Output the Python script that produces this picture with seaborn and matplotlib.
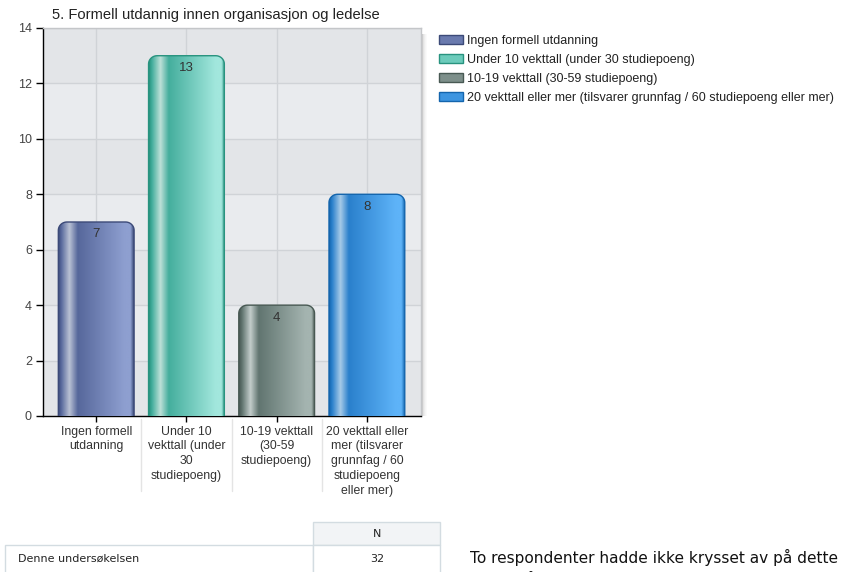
import numpy as np
import pandas as pd
import matplotlib
matplotlib.use("Agg")
import matplotlib.pyplot as plt
import seaborn as sns
from matplotlib.path import Path
from matplotlib.patches import PathPatch, Rectangle, Patch
from matplotlib.colors import to_rgb

# ---- data -------------------------------------------------------------
title = "5. Formell utdannig innen organisasjon og ledelse"
categories = [
    "Ingen formell utdanning",
    "Under 10 vekttall (under 30 studiepoeng)",
    "10-19 vekttall (30-59 studiepoeng)",
    "20 vekttall eller mer (tilsvarer grunnfag / 60 studiepoeng eller mer)",
]
tick_labels = [
    "Ingen formell\nutdanning",
    "Under 10\nvekttall (under\n30\nstudiepoeng)",
    "10-19 vekttall\n(30-59\nstudiepoeng)",
    "20 vekttall eller\nmer (tilsvarer\ngrunnfag / 60\nstudiepoeng\neller mer)",
]
counts = [7, 13, 4, 8]
yticks = [0, 2, 4, 6, 8, 10, 12, 14]
table_header = "N"
table_rows = ["Denne undersøkelsen"]
table_n = [32]
note_lines = ["To respondenter hadde ikke krysset av på dette", "spørsmålet."]

# ---- styling ----------------------------------------------------------
# (edge, dark body, light body, highlight) for each cylinder
bar_shades = [
    ("#3c4a78", "#56679b", "#8e9fd0", "#b9c1d4"),
    ("#28937f", "#44ae9d", "#a2e7dd", "#bde0d8"),
    ("#485953", "#617570", "#a4b4b0", "#c3cdcb"),
    ("#1465ad", "#2a80cc", "#5eb3f8", "#a6cae8"),
]
legend_colors = ["#6a7aae", "#6ccbbb", "#7d8f8a", "#3d95e0"]

W, H = 845, 572
sns.set_style("white")
plt.rcParams["font.family"] = ["Liberation Sans", "DejaVu Sans"]

fig = plt.figure(figsize=(W / 100, H / 100), dpi=100)


def fx(px):
    return px / W


def fy(py):
    return 1 - py / H


ax = fig.add_axes([fx(43), fy(416), (421 - 43) / W, (416 - 28) / H])

df = pd.DataFrame({"kategori": categories, "antall": counts})
sns.barplot(data=df, x="kategori", y="antall", hue="kategori",
            palette=legend_colors, width=0.84, legend=False, ax=ax,
            zorder=3)

XLIM = (-0.59, 3.6)
YLIM = (0, 14)

# alternating background bands
for i, lo in enumerate(yticks[:-1]):
    ax.axhspan(lo, lo + 2, color="#e3e5e8" if i % 2 == 0 else "#e9ebee",
               zorder=0, lw=0)


def cylinder_path(x0, x1, h, rx, ry):
    verts = [(x0, -0.2), (x0, h - ry)]
    t = np.linspace(np.pi, np.pi / 2, 12)
    verts += [(x0 + rx + rx * np.cos(a), h - ry + ry * np.sin(a)) for a in t]
    t = np.linspace(np.pi / 2, 0, 12)
    verts += [(x1 - rx + rx * np.cos(a), h - ry + ry * np.sin(a)) for a in t]
    verts += [(x1, -0.2), (x0, -0.2)]
    codes = [Path.MOVETO] + [Path.LINETO] * (len(verts) - 2) + [Path.CLOSEPOLY]
    return Path(verts, codes)


def shade_strip(edge, dark, light, hi, n=300):
    stops = [(0.0, edge), (0.04, dark), (0.15, hi), (0.26, dark),
             (0.88, light), (0.955, light), (1.0, edge)]
    xs = np.linspace(0, 1, n)
    pos = [s[0] for s in stops]
    cols = np.array([to_rgb(s[1]) for s in stops])
    rgb = np.stack([np.interp(xs, pos, cols[:, k]) for k in range(3)], axis=-1)
    return rgb[np.newaxis, :, :]


for patch, shades, val in zip(ax.patches, bar_shades, counts):
    x0 = patch.get_x()
    w = patch.get_width()
    h = patch.get_height()
    patch.set_visible(False)
    edge, dark, light, hi = shades
    outline = PathPatch(cylinder_path(x0, x0 + w, h, 0.095, 0.3),
                        facecolor="none", edgecolor=edge, lw=1.0, zorder=4)
    ax.add_patch(outline)
    im = ax.imshow(shade_strip(*shades), extent=[x0, x0 + w, 0, h],
                   aspect="auto", interpolation="bilinear", zorder=3)
    im.set_clip_path(outline)
    ax.text(x0 + w / 2, h - 0.45, f"{val}", ha="center", va="center",
            fontsize=9.5, color="#333333", zorder=5)

ax.set_xlim(*XLIM)
ax.set_ylim(*YLIM)
ax.set_yticks(yticks)
ax.set_yticklabels([str(v) for v in yticks])
ax.set_xticks(range(len(categories)))
ax.set_xticklabels(tick_labels, fontsize=8.8, color="#333333",
                   linespacing=1.3, va="top")
ax.set_xlabel("")
ax.set_ylabel("")
ax.grid(True, color="#d0d3d7", lw=1)
ax.set_axisbelow(True)
ax.tick_params(axis="y", length=5, width=1, color="black", labelsize=9,
               labelcolor="#444444", pad=3, left=True)
ax.tick_params(axis="x", length=4, width=1, color="black", pad=3, bottom=True)
for side in ("left", "bottom"):
    ax.spines[side].set_color("black")
    ax.spines[side].set_linewidth(1)
for side in ("top", "right"):
    ax.spines[side].set_color("#c4c6c9")
    ax.spines[side].set_linewidth(1)

# faint dividers between category labels
for xd in (0.5, 1.5, 2.5):
    ax.plot([xd, xd], [-0.1, -2.7], color="#e4e4e4", lw=1, clip_on=False,
            zorder=1)

# soft shadow on the right side of the plot frame
for i, a in enumerate([0.16, 0.11, 0.07, 0.04, 0.02]):
    fig.add_artist(Rectangle((fx(422 + i), fy(416)), 1 / W, (416 - 34) / H,
                             transform=fig.transFigure, color="black",
                             alpha=a, lw=0))

fig.text(fx(52), fy(15), title, fontsize=10.6, color="#222222",
         ha="left", va="center")

handles = [Patch(facecolor=c, edgecolor=s[0], lw=1)
           for c, s in zip(legend_colors, bar_shades)]
fig.legend(handles, categories, loc="upper left",
           bbox_to_anchor=(fx(439), fy(35)), frameon=False, fontsize=9,
           handlelength=1.9, handleheight=0.7, handletextpad=0.35,
           labelspacing=0.55, borderaxespad=0, borderpad=0,
           labelcolor="#222222")

# ---- summary table ----------------------------------------------------
border = "#d3dce1"


def cell(x, y, w, h, face):
    fig.add_artist(Rectangle((fx(x), fy(y + h)), w / W, h / H,
                             transform=fig.transFigure, facecolor=face,
                             edgecolor=border, lw=1))


cell(313, 522, 127, 23, "#f2f4f6")
cell(5, 545, 308, 32, "white")
cell(313, 545, 127, 32, "white")
fig.text(fx(377), fy(534), table_header, fontsize=8, family="DejaVu Sans",
         ha="center", va="center", color="#222222")
for row, n in zip(table_rows, table_n):
    fig.text(fx(18), fy(559), row, fontsize=8, family="DejaVu Sans",
             ha="left", va="center", color="#222222")
    fig.text(fx(377), fy(559), str(n), fontsize=8, family="DejaVu Sans",
             ha="center", va="center", color="#222222")

fig.text(fx(470), fy(557), note_lines[0], fontsize=11.05, family="DejaVu Sans",
         ha="left", va="center", color="#111111")
fig.text(fx(470), fy(579), note_lines[1], fontsize=11.05, family="DejaVu Sans",
         ha="left", va="center", color="#111111")

fig.savefig("out.png", dpi=100)
